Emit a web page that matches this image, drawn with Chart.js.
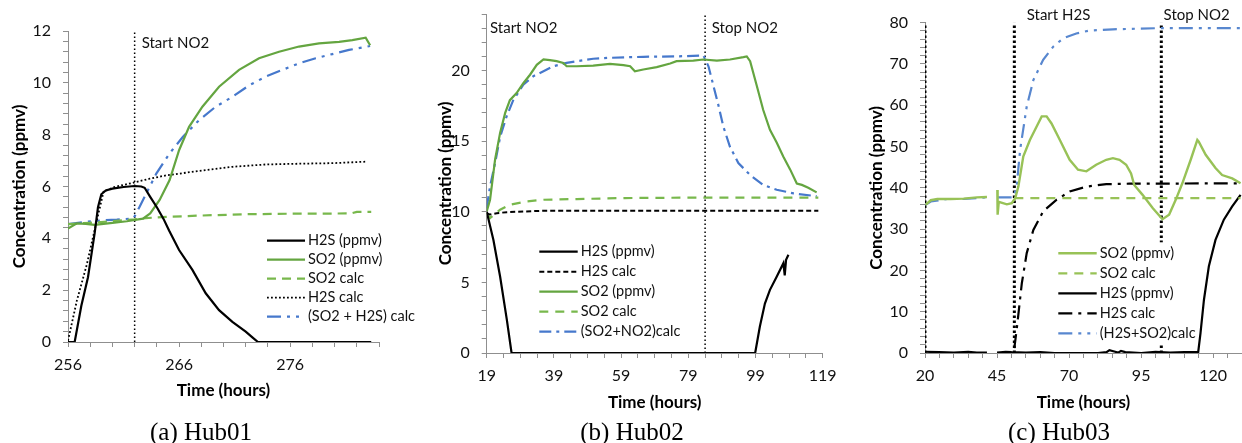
<!DOCTYPE html>
<html>
<head>
<meta charset="utf-8">
<script src="https://cdn.jsdelivr.net/npm/chart.js@4.4.1/dist/chart.umd.min.js"></script>
<style>
  body { margin:0; background:#fff; }
  #wrap { position:relative; width:1242px; height:443px; overflow:hidden; background:#fff; }
  #wrap canvas { position:absolute; top:0; }
  .cap { position:absolute; top:419px; font-family:"Liberation Serif","Times New Roman",serif; font-size:25px; line-height:25px; color:#000; transform:translateX(-50%); white-space:nowrap; }
</style>
</head>
<body>
<div id="wrap">
  <canvas id="hub01" width="425" height="443" style="left:0px"></canvas>
  <canvas id="hub02" width="435" height="443" style="left:410px"></canvas>
  <canvas id="hub03" width="412" height="443" style="left:830px"></canvas>
  <div class="cap" style="left:201px">(a) Hub01</div>
  <div class="cap" style="left:632px">(b) Hub02</div>
  <div class="cap" style="left:1059px">(c) Hub03</div>
</div>
<script>
// ===== Hub01 : [time h, ppmv] =====
const hub01XTicks = [256, 266, 276];
const hub01YTicks = [0, 2, 4, 6, 8, 10, 12];
const hub01H2S = [[256,0],[256.6,0],[257.2,1.4],[257.8,2.5],[258.4,4.2],[258.7,5.2],[259.0,5.7],[259.4,5.85],[260,5.92],[261,5.98],[262,6.02],[262.6,6.0],[262.9,5.95],[263.4,5.6],[264,5.2],[264.6,4.75],[265.1,4.3],[266,3.55],[267.2,2.78],[268.4,1.88],[269.6,1.23],[270.8,0.78],[272,0.4],[272.6,0.18],[273.1,0],[283.3,0]];
const hub01SO2 = [[256,4.38],[256.8,4.58],[257.6,4.56],[258.4,4.52],[259.2,4.56],[260,4.6],[261.3,4.66],[262.75,4.76],[263.4,4.96],[264.25,5.48],[265.15,6.25],[266,7.4],[266.9,8.3],[268.1,9.08],[269.6,9.85],[271.4,10.5],[273.2,10.95],[275,11.2],[276.8,11.4],[278.6,11.52],[280.4,11.58],[281.6,11.65],[282.8,11.74],[283.2,11.45]];
const hub01SO2calc = [[256,4.55],[258,4.6],[260,4.66],[262,4.73],[263,4.78],[265,4.83],[268,4.88],[272,4.93],[276,4.95],[281.5,4.96],[282,5.02],[283.3,5.02]];
const hub01H2Scalc = [[256,0.05],[256.8,1.6],[257.7,3.0],[258.6,4.7],[259.2,5.8],[260.1,5.97],[261.9,6.15],[263.35,6.3],[264.85,6.43],[267.8,6.6],[270.8,6.76],[273.8,6.85],[276.8,6.88],[279.8,6.9],[282.9,6.96]];
const hub01Sum = [[256,4.55],[257.5,4.63],[258.9,4.69],[260.4,4.72],[261.9,4.77],[262.45,5.22],[263.05,5.73],[263.95,6.5],[265.15,7.28],[266.35,7.92],[267.8,8.56],[269.3,9.08],[270.8,9.46],[272.3,9.9],[273.8,10.24],[275.3,10.5],[276.8,10.75],[278.3,10.95],[279.8,11.11],[281.3,11.27],[283.2,11.42]];
const hub01Lines = [262];
const hub01Notes = [[262, 'Start NO2']];

// ===== Hub02 =====
const hub02XTicks = [19, 39, 59, 79, 99, 119];
const hub02YTicks = [0, 5, 10, 15, 20];
const hub02H2S = [[19,10],[21,8.0],[23,5.4],[25,2.34],[26.4,0],[98.9,0],[100.3,1.87],[101.8,3.5],[103.3,4.47],[105.3,5.4],[107.3,6.36],[107.7,5.5],[108.1,6.6],[108.8,6.95]];
const hub02H2Scalc = [[19,9.9],[20,9.8],[22,9.9],[25,9.97],[30,10.02],[36,10.07],[117.7,10.07]];
const hub02SO2 = [[19,10.02],[20,10.85],[21.5,13.7],[23,15.6],[24.5,17.0],[25.9,17.9],[27.9,18.4],[29.9,19.1],[31.9,19.7],[33.9,20.4],[35.9,20.78],[37.8,20.73],[39.8,20.66],[41.8,20.54],[42.8,20.3],[45.8,20.3],[50.7,20.35],[55.7,20.47],[59.7,20.38],[61.7,20.3],[63.1,19.95],[65.6,20.07],[69.6,20.24],[73.6,20.5],[75.5,20.66],[80.5,20.7],[83.5,20.78],[87.5,20.7],[91.4,20.78],[95.4,20.95],[96.4,21.0],[97.4,20.66],[99.4,18.9],[101.3,17.2],[103.3,15.8],[105.3,14.9],[107.3,13.9],[109.3,13.0],[111.3,12.0],[112.8,11.9],[114.7,11.7],[117.2,11.37]];
const hub02SO2calc = [[19,9.9],[20,9.55],[23,10.14],[25.9,10.5],[30.9,10.73],[35.9,10.85],[45.8,10.9],[60,10.97],[80,11.0],[117.7,11.0]];
const hub02Sum = [[19,10.26],[20,11.8],[21.5,13.45],[23,15.3],[25,16.8],[26.9,17.9],[29.9,19.0],[32.9,19.6],[35.9,19.95],[38.8,20.3],[42.8,20.54],[45.8,20.66],[50.7,20.83],[55.7,20.9],[65.6,20.97],[75.5,21.0],[83.5,21.06],[85,20.3],[86.5,18.9],[88,17.5],[89.4,16.05],[91.4,14.6],[93.9,13.45],[97.4,12.6],[101.3,11.9],[105.3,11.56],[110.3,11.3],[117.2,11.1]];
const hub02Lines = [84];
const hub02Notes = [[19, 'Start NO2'], [84, 'Stop NO2']];

// ===== Hub03 =====
const hub03XTicks = [20, 45, 70, 95, 120];
const hub03YTicks = [0, 10, 20, 30, 40, 50, 60, 70, 80];
const hub03SO2 = [[20.2,35.9],[22,37.0],[24.3,37.3],[28.9,37.3],[33.4,37.4],[38,37.7],[41.5,37.8],[43,null],[45.1,39.5],[45.2,33.5],[45.6,36.6],[48.4,36.0],[50.1,36.3],[51.3,37.5],[52.4,40.3],[54.1,47.6],[56.4,51.6],[58.7,54.8],[60.5,57.3],[62.2,57.3],[63.9,55.6],[66.8,51.6],[70.2,46.8],[73.1,44.4],[76,44.0],[79.4,45.6],[82.9,46.8],[85.2,47.2],[87.5,46.8],[89.8,45.6],[91.5,43.5],[92.6,40.7],[95.5,38.3],[99,35.1],[102.4,32.4],[104.7,33.5],[107,37.1],[109.3,41.1],[112.2,46.8],[114.5,51.6],[115,51.2],[117.4,48],[120.8,44.8],[123.1,43.1],[126.6,42.3],[129.5,41.1]];
const hub03SO2calc = [[51,37.5],[129.5,37.5]];
const hub03H2S = [[20.2,0.3],[25,0.2],[30,0.1],[35,0.3],[38,0.1],[41.5,0.1],[43,null],[45,0.1],[48,0.3],[50,0.2],[55,0.1],[60,0.2],[65,0],[80,0],[83,0.2],[84,0.7],[86,0.3],[87,0.1],[88,0.5],[89.5,0.2],[95,0],[100,0.3],[105,0.1],[110,0.2],[114.8,0.2],[115.6,4.8],[116.8,12.9],[118.5,21],[120.8,27.4],[123.7,32.3],[126.6,35.5],[129.5,38.3]];
const hub03H2Scalc = [[51,1.2],[51.8,5.6],[53.6,16.9],[55.3,24.2],[57.6,29.8],[61,34.3],[65.6,37.1],[70.2,39.1],[76,40.3],[82.9,40.9],[90.9,41],[129.5,41.1]];
const hub03Sum = [[20.2,35.9],[22,36.7],[27.7,37.3],[33.4,37.3],[41.5,37.7],[43,null],[45.2,37.7],[50.7,37.7],[51.8,40.3],[53,49.2],[55.3,59.7],[57.6,66.1],[61,71],[64.5,74.2],[67.9,76.2],[72.5,77.4],[77.1,78.1],[85.2,78.4],[102.4,78.7],[130,78.7]];
const hub03Lines = [20, 51, 102];
const hub03Notes = [[51, 'Start H2S'], [102, 'Stop NO2']];

// ===== styling =====
const AXIS = '#8f8f8f';
const TXT = '#111';
const GREEN = '#64a540', GREEN_D = '#78b84c', BLUE = '#4678cc';
const LGREEN = '#98c257', LBLUE = '#5887cf';
Chart.defaults.font.family = 'Lato';

function steps(min, max, step) {
  const out = [];
  for (let i = 0; min + i * step <= max + 1e-9; i++) out.push(+(min + i * step).toFixed(4));
  return out;
}

function line(label, data, color, width, dash) {
  return { label, data, borderColor: color, backgroundColor: color, borderWidth: width,
    borderDash: dash || [], pointRadius: 0, tension: 0, fill: false, spanGaps: false };
}
function marker(t, yMax, width, dash) {
  return { label: '', data: [[t, 0], [t, yMax]], borderColor: '#000', borderWidth: width,
    borderDash: dash, pointRadius: 0, noLegend: true };
}

// legend drawn inside the plot, white box like Excel
const boxLegend = {
  id: 'boxLegend',
  afterDatasetsDraw(chart, args, o) {
    const ctx = chart.ctx;
    const items = chart.data.datasets.filter(ds => !ds.noLegend);
    ctx.save();
    ctx.font = '14.5px Lato';
    const tw = Math.max(...items.map(ds => ctx.measureText(ds.label).width));
    ctx.fillStyle = '#fff';
    ctx.fillRect(o.left - 3, o.top - 11, o.len + tw + 8, (items.length - 1) * o.gap + 22);
    items.forEach((ds, i) => {
      const y = o.top + i * o.gap;
      ctx.strokeStyle = ds.borderColor; ctx.lineWidth = ds.borderWidth;
      ctx.setLineDash(ds.borderDash);
      ctx.beginPath(); ctx.moveTo(o.left, y); ctx.lineTo(o.left + o.len, y); ctx.stroke();
      ctx.setLineDash([]);
      ctx.fillStyle = TXT; ctx.textBaseline = 'middle';
      ctx.fillText(ds.label, o.left + o.len + 3, y);
    });
    ctx.restore();
  }
};

const notes = {
  id: 'notes',
  afterDatasetsDraw(chart, args, o) {
    const ctx = chart.ctx, xs = chart.scales.x;
    ctx.save();
    ctx.fillStyle = TXT; ctx.font = '15px Lato'; ctx.textBaseline = 'middle';
    o.items.forEach((n, i) => ctx.fillText(n[1], xs.getPixelForValue(n[0]) + o.dx[i], o.y));
    ctx.restore();
  }
};

function makeChart(id, c) {
  const noPad = s => { s.paddingTop = s.paddingBottom = s.paddingLeft = s.paddingRight = 0; };
  const xMinor = steps(c.xMin, c.xTickMax, c.xStep);
  const yMinor = steps(c.yMin, c.yMax, c.yStep);
  return new Chart(document.getElementById(id), {
    type: 'line',
    data: { datasets: c.datasets },
    options: {
      responsive: false, animation: false, devicePixelRatio: 1,
      layout: { padding: c.pad },
      plugins: { legend: { display: false }, tooltip: { enabled: false },
        boxLegend: c.legend, notes: c.notes },
      scales: {
        x: {
          type: 'linear', min: c.xMin, max: c.xMax,
          afterBuildTicks: s => { s.ticks = xMinor.map(v => ({ value: v })); },
          afterFit: s => { s.height = c.xH; noPad(s); },
          ticks: { autoSkip: false, maxRotation: 0, padding: 8, color: TXT, font: { size: 16 },
            callback: v => c.xTicks.includes(v) ? String(v) : '' },
          grid: { drawOnChartArea: false, tickLength: 5, color: AXIS },
          border: { color: AXIS, width: 1 },
          title: { display: true, text: 'Time (hours)', color: '#000', padding: 0,
            font: { size: 17, weight: 'bold' } }
        },
        y: {
          type: 'linear', min: c.yMin, max: c.yMax,
          afterBuildTicks: s => { s.ticks = yMinor.map(v => ({ value: v })); },
          afterFit: s => { s.width = c.yW; noPad(s); },
          ticks: { autoSkip: false, padding: 12, color: TXT, font: { size: 16 },
            callback: v => c.yTicks.includes(v) ? String(v) : '' },
          grid: { drawOnChartArea: false, tickLength: 5, color: AXIS },
          border: { color: AXIS, width: 1 },
          title: { display: true, text: 'Concentration (ppmv)', color: '#000', padding: 0,
            font: { size: 17, weight: 'bold' } }
        }
      }
    },
    plugins: [boxLegend, notes]
  });
}

// ---- (a) Hub01 ----
makeChart('hub01', {
  xMin: 256, xMax: 284, xTickMax: 284, xStep: 2, xTicks: hub01XTicks,
  yMin: 0, yMax: 12, yStep: 0.4, yTicks: hub01YTicks,
  pad: { left: 9.5, top: 31, right: 46, bottom: 42.2 }, yW: 58.5, xH: 58.8,
  legend: { left: 267, top: 240.7, gap: 19, len: 38 },
  notes: { items: hub01Notes, dx: [7], y: 42.7 },
  datasets: [
    line('H2S (ppmv)', hub01H2S, '#000', 2.2),
    line('SO2 (ppmv)', hub01SO2, GREEN, 2.2),
    line('SO2 calc', hub01SO2calc, GREEN_D, 2.2, [9, 6]),
    line('H2S calc', hub01H2Scalc, '#000', 1.8, [1.8, 2.2]),
    line('(SO2 + H2S) calc', hub01Sum, BLUE, 2.2, [14, 6, 3, 6, 3, 6]),
    ...hub01Lines.map(t => marker(t, 12, 1.5, [1.5, 2.5]))
  ]
});

// ---- (b) Hub02 ----
makeChart('hub02', {
  xMin: 19, xMax: 119, xTickMax: 119, xStep: 5, xTicks: hub02XTicks,
  yMin: 0, yMax: 24, yStep: 1, yTicks: hub02YTicks,
  pad: { left: 24.9, top: 14, right: 22.3, bottom: 29.9 }, yW: 51.8, xH: 60.1,
  legend: { left: 129.3, top: 251.7, gap: 20, len: 38.4 },
  notes: { items: hub02Notes, dx: [3.3, 6.7], y: 28 },
  datasets: [
    line('H2S (ppmv)', hub02H2S, '#000', 2.2),
    line('H2S calc', hub02H2Scalc, '#000', 2, [5, 3]),
    line('SO2 (ppmv)', hub02SO2, GREEN, 2.2),
    line('SO2 calc', hub02SO2calc, GREEN_D, 2.2, [9, 7]),
    line('(SO2+NO2)calc', hub02Sum, BLUE, 2.2, [12, 5, 3, 5]),
    ...hub02Lines.map(t => marker(t, 24, 1.5, [1.5, 2.5]))
  ]
});

// ---- (c) Hub03 ----
makeChart('hub03', {
  xMin: 20, xMax: 130, xTickMax: 125, xStep: 5, xTicks: hub03XTicks,
  yMin: 0, yMax: 80, yStep: 2, yTicks: hub03YTicks,
  pad: { left: 36.6, top: 22.7, right: 0, bottom: 29.9 }, yW: 58.4, xH: 60.1,
  legend: { left: 228.3, top: 253.3, gap: 20, len: 38.4 },
  notes: { items: hub03Notes, dx: [12.4, 2.3], y: 15 },
  datasets: [
    line('SO2 (ppmv)', hub03SO2, LGREEN, 2.4),
    line('SO2 calc', hub03SO2calc, LGREEN, 2.2, [9, 7]),
    line('H2S (ppmv)', hub03H2S, '#000', 2.2),
    line('H2S calc', hub03H2Scalc, '#000', 2.2, [14, 6, 3, 6]),
    line('(H2S+SO2)calc', hub03Sum, LBLUE, 2.2, [14, 6, 3, 6, 3, 6]),
    ...hub03Lines.map(t => marker(t, 80, 3, [2.5, 2.5]))
  ]
});
</script>
</body>
</html>
